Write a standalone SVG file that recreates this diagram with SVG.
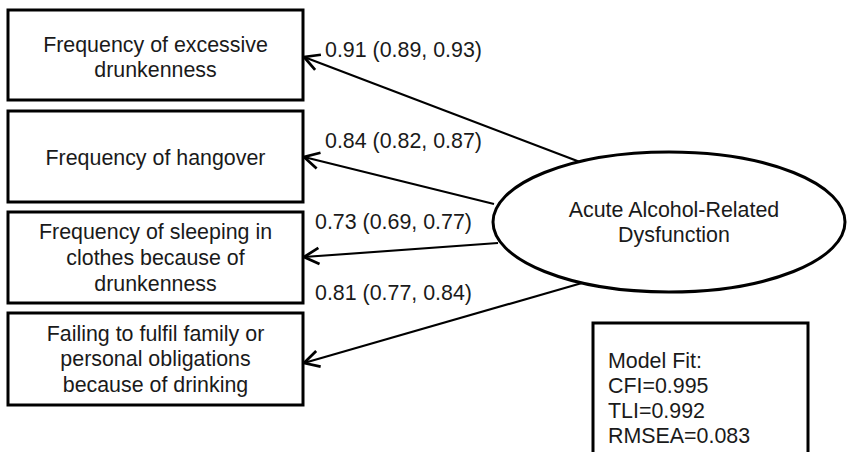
<svg xmlns="http://www.w3.org/2000/svg" width="847" height="452" viewBox="0 0 847 452">
<style>
  .box { fill: #fff; stroke: #000; stroke-width: 3; }
  .t { font-family: "Liberation Sans", Arial, sans-serif; font-size: 21.4px; fill: #1a1a1a; }
  .c { text-anchor: middle; }
  .conn { stroke: #000; stroke-width: 2.2; fill: none; marker-end: url(#arr); }
</style>
<defs>
  <marker id="arr" markerUnits="userSpaceOnUse" markerWidth="20" markerHeight="20" viewBox="-14 -8 16 16" refX="0" refY="0" orient="auto">
    <path d="M-12,-6.5 L0,0 L-12,6.5" fill="none" stroke="#000" stroke-width="2.2"/>
  </marker>
</defs>
<rect width="847" height="452" fill="#fff"/>
<g id="connectors">
  <line class="conn" x1="580" y1="162" x2="304" y2="57"/>
  <line class="conn" x1="494" y1="204" x2="304" y2="157"/>
  <line class="conn" x1="498" y1="243" x2="304" y2="257"/>
  <line class="conn" x1="582" y1="283" x2="304" y2="363"/>
  <text class="t" x="325" y="57">0.91 (0.89, 0.93)</text>
  <text class="t" x="325" y="148">0.84 (0.82, 0.87)</text>
  <text class="t" x="315" y="229">0.73 (0.69, 0.77)</text>
  <text class="t" x="315" y="300">0.81 (0.77, 0.84)</text>
</g>
<g id="n1">
  <rect class="box" x="8" y="10" width="295" height="90"/>
  <text class="t c" x="155.5" y="52">Frequency of excessive</text>
  <text class="t c" x="155.5" y="77">drunkenness</text>
</g>
<g id="n2">
  <rect class="box" x="8" y="111" width="295" height="91"/>
  <text class="t c" x="155.5" y="165">Frequency of hangover</text>
</g>
<g id="n3">
  <rect class="box" x="8" y="212" width="295" height="91"/>
  <text class="t c" x="155.5" y="239">Frequency of sleeping in</text>
  <text class="t c" x="155.5" y="265">clothes because of</text>
  <text class="t c" x="155.5" y="291">drunkenness</text>
</g>
<g id="n4">
  <rect class="box" x="8" y="313" width="295" height="92"/>
  <text class="t c" x="155.5" y="341">Failing to fulfil family or</text>
  <text class="t c" x="155.5" y="366">personal obligations</text>
  <text class="t c" x="155.5" y="392">because of drinking</text>
</g>
<g id="latent">
  <ellipse class="box" cx="669" cy="222" rx="176" ry="70"/>
  <text class="t c" x="674" y="217">Acute Alcohol-Related</text>
  <text class="t c" x="674" y="242">Dysfunction</text>
</g>
<g id="fit">
  <rect class="box" x="593" y="323" width="215" height="140"/>
  <text class="t" x="608" y="368">Model Fit:</text>
  <text class="t" x="608" y="393">CFI=0.995</text>
  <text class="t" x="608" y="418">TLI=0.992</text>
  <text class="t" x="608" y="443">RMSEA=0.083</text>
</g>
</svg>
